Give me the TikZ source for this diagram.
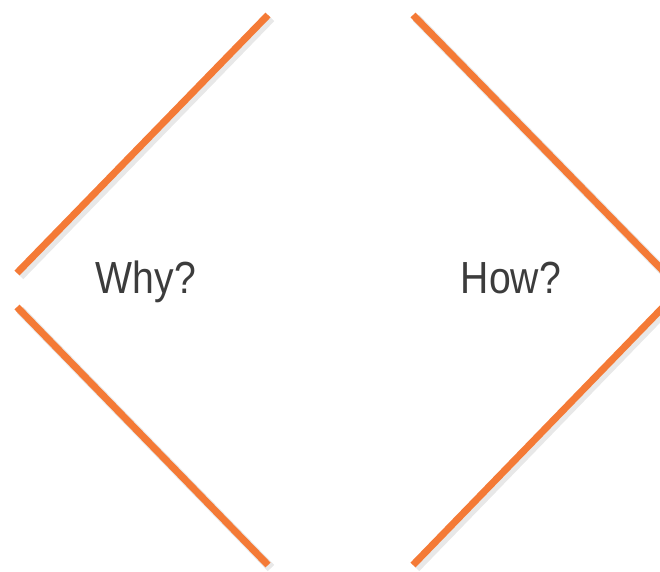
\documentclass[tikz,border=0pt]{standalone}
\usepackage{fontspec}
\setmainfont{Liberation Sans}
\definecolor{bracket}{HTML}{F47A36}
\definecolor{label}{HTML}{3C3C3C}
\tikzset{
  bracketline/.style={draw=bracket, line width=7pt, line cap=butt},
  shadowline/.style={draw=black!9, line width=9pt, line cap=butt},
  lbl/.style={text=label, font=\fontsize{45}{54}\selectfont, inner sep=0pt, xscale=0.87, anchor=base}
}
\begin{document}
\begin{tikzpicture}[x=1pt,y=-1pt]
\useasboundingbox (0,0) rectangle (660,571);
\clip (0,0) rectangle (660,571);
% shadows
\begin{scope}[shift={(3,3)}]
\draw[shadowline] (17,273) -- (268,15);
\draw[shadowline] (17,307) -- (268,565);
\draw[shadowline] (413,15) -- (670,278);
\draw[shadowline] (670,300) -- (413,565);
\end{scope}
% brackets
\draw[bracketline] (17,273) -- (268,15);
\draw[bracketline] (17,307) -- (268,565);
\draw[bracketline] (413,15) -- (670,278);
\draw[bracketline] (670,300) -- (413,565);
\node[lbl] (why) at (146,293) {Why?};
\node[lbl] (how) at (511,293) {How?};
\end{tikzpicture}
\end{document}
